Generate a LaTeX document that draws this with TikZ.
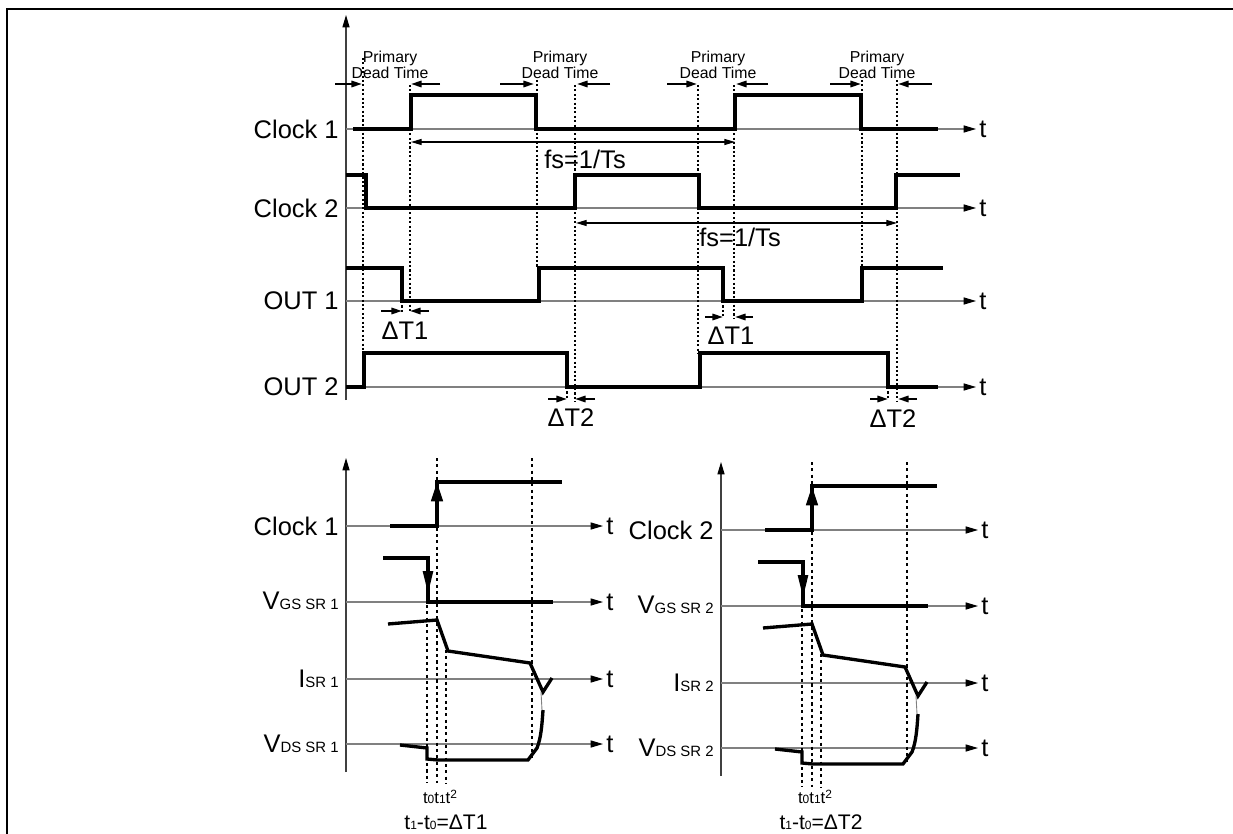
\documentclass[tikz,border=0pt]{standalone}
\usepackage{fontspec}
\setmainfont{Liberation Sans}
\usetikzlibrary{arrows.meta}
\newcommand{\sublbl}[1]{{\fontsize{8.5}{9}\selectfont #1}}
\newcommand{\tidx}[1]{{\fontsize{6.8}{7}\selectfont #1}}

\begin{document}
\begin{tikzpicture}[x=0.02cm,y=-0.02cm,
    wave/.style={line width=1.9pt},
    axis/.style={black!50,line width=0.6pt,-{Triangle[length=7pt,width=4pt,color=black]}},
    guide/.style={line width=1.25pt,dash pattern=on 1.2pt off 1.3pt},
    guidesr/.style={line width=1.6pt,dash pattern=on 1.8pt off 1.8pt},
    dtarrow/.style={line width=1.1pt,-{Triangle[length=6pt,width=3.6pt]}},
    period/.style={line width=0.6pt,{Triangle[length=6pt,width=3.4pt]}-{Triangle[length=6pt,width=3.4pt]}},
    sig/.style={inner sep=0pt,font=\fontsize{14.5}{16}\selectfont},
    note/.style={inner sep=0pt,align=center,font=\fontsize{9}{9.5}\selectfont}
  ]
    \useasboundingbox (0,0) rectangle (1233,834);
    \draw[line width=1.2pt] (7,834) -- (7,9) -- (1233,9);

    \draw[axis,black!75] (346,400) -- (346,15);
    \foreach \y in {129,208,301,387} {
      \draw[axis] (346,\y) -- (976,\y);
      \node[sig,anchor=west] (t\y) at (979,\y) {t};
    }
    \node[sig,anchor=east] (clkA) at (339,129) {Clock 1};
    \node[sig,anchor=east] (clkB) at (339,208) {Clock 2};
    \node[sig,anchor=east] (outA) at (339,301) {OUT 1};
    \node[sig,anchor=east] (outB) at (339,387) {OUT 2};

    \draw[wave] (353,129) -- (411,129) -- (411,95) -- (536,95) -- (536,129) -- (735,129)
      -- (735,95) -- (861,95) -- (861,129) -- (938,129);
    \draw[wave] (346,175) -- (366,175) -- (366,208) -- (575,208) -- (575,175) -- (699,175)
      -- (699,208) -- (896,208) -- (896,175) -- (960,175);
    \draw[wave] (346,268) -- (402,268) -- (402,301) -- (539,301) -- (539,268) -- (723,268)
      -- (723,301) -- (862,301) -- (862,268) -- (943,268);
    \draw[wave] (346,387) -- (364,387) -- (364,353) -- (567,353) -- (567,387) -- (700,387)
      -- (700,353) -- (888,353) -- (888,387) -- (938,387);

    \foreach \x/\ya/\yb in {363/58/352,410/85/313,537/80/268,575/85/402,698/85/353,
        734/85/318,862/80/268,897/80/402,402/301/312,567/387/400,723/301/318,888/387/400}
      \draw[guide] (\x,\ya) -- (\x,\yb);

    \foreach \xa/\xb/\xc/\xd/\xt in {335/362/440/411/390,500/534/610/577/560,
        667/697/768/736/718,830/861/932/898/877} {
      \draw[dtarrow] (\xa,84) -- (\xb,84);
      \draw[dtarrow] (\xc,84) -- (\xd,84);
      \node[note] (dead\xt) at (\xt,65) {Primary\\Dead Time};
    }

    \draw[period] (411,142) -- (735,142);
    \node[sig] (fsA) at (585,159) {fs=1/Ts};
    \draw[period] (576,223) -- (897,223);
    \node[sig] (fsB) at (740,237) {fs=1/Ts};

    \foreach \xa/\xb/\xc/\xd/\y/\xt/\yt/\n in {381/402/429/410/311/405/331/1,
        705/723/753/735/317/731/336/1,548/567/595/575/399/571/418/2,870/888/917/898/399/893/419/2} {
      \draw[dtarrow] (\xa,\y) -- (\xb,\y);
      \draw[dtarrow] (\xc,\y) -- (\xd,\y);
      \node[sig] (dT\xt) at (\xt,\yt) {ΔT\n};
    }

    \foreach \dx/\dy/\n in {0/0/1,375/4/2} {
      \begin{scope}[shift={(\dx,\dy)}]
        \draw[axis,black!75] (346,772) -- (346,458);
        \foreach \y in {526,602,679,744} {
          \draw[axis] (346,\y) -- (603,\y);
          \node[sig,anchor=west] (t\n\y) at (606,\y) {t};
        }
        \node[sig,anchor=east] (clk\n) at (339,526) {Clock \n};
        \node[sig,anchor=east] (vgs\n) at (339,601) {V\sublbl{GS SR \n}};
        \node[sig,anchor=east] (isr\n) at (339,679) {I\sublbl{SR \n}};
        \node[sig,anchor=east] (vds\n) at (339,744) {V\sublbl{DS SR \n}};

        \draw[wave] (390,526) -- (437,526) -- (437,482) -- (562,482);
        \draw[wave,-{Triangle[length=11pt,width=6.5pt]}] (437,515) -- (437,482);
        \draw[wave] (383,558) -- (428,558) -- (428,602) -- (553,602);
        \draw[wave,-{Triangle[length=13pt,width=5.5pt]}] (428,562) -- (428,594);
        \draw[wave] (388,624) -- (437,620) -- (448,651) -- (530,663) -- (543,692) -- (552,678);
        \draw[black!50,line width=0.5pt] (541,692) -- (542,710);
        \draw[wave] (400,745) -- (427,748) -- (427,759) -- (438,760) -- (528,760) -- (537,748)
          .. controls (541,738) and (542,725) .. (543,710);

        \foreach \x/\ya/\yb in {427/605/783,437/458/783,446/650/783,532/458/758}
          \draw[guidesr] (\x,\ya) -- (\x,\yb);

        \node[inner sep=0pt,font=\fontsize{9.5}{10}\selectfont] (tt\n) at (440,{797-\dy})
          {t\tidx{0}t\tidx{1}t\raisebox{3pt}{\tidx{2}}};
        \node[inner sep=0pt,font=\fontsize{12}{13}\selectfont] (dd\n) at (446,{822-\dy})
          {t\tidx{1}-t\tidx{0}=ΔT\n};
      \end{scope}
    }
  \end{tikzpicture}
\end{document}
